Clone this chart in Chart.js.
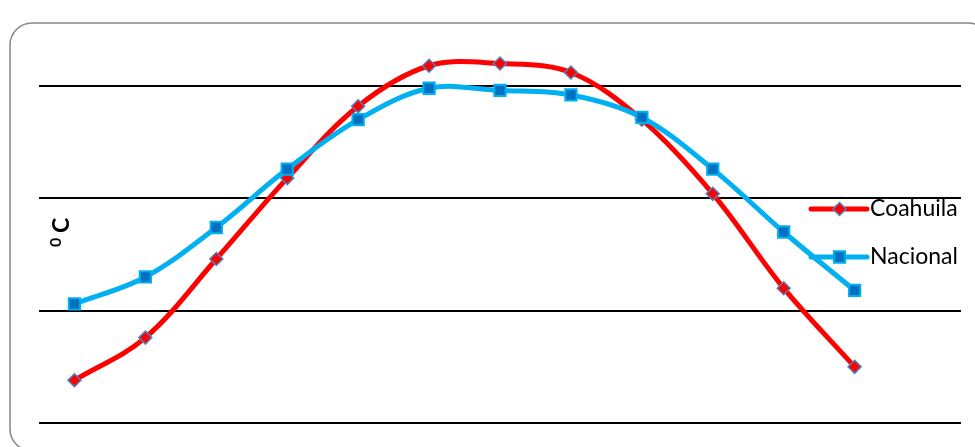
<!DOCTYPE html>
<html>
<head>
<meta charset="utf-8">
<script src="https://cdn.jsdelivr.net/npm/chart.js@4/dist/chart.umd.min.js"></script>
<style>
  html, body { margin: 0; padding: 0; background: #ffffff; }
  #wrap { position: relative; width: 975px; height: 447px; }
</style>
</head>
<body>
<div id="wrap"><canvas id="c"></canvas></div>
<script>
// Monthly mean temperature (°C); the empty trailing slot keeps room on the right for the legend
const months = ['Ene', 'Feb', 'Mar', 'Abr', 'May', 'Jun', 'Jul', 'Ago', 'Sep', 'Oct', 'Nov', 'Dic', ''];
const coahuila = [11.9, 13.8, 17.3, 20.9, 24.1, 25.9, 26.0, 25.6, 23.5, 20.2, 16.0, 12.5];
const nacional = [15.3, 16.5, 18.7, 21.3, 23.5, 24.9, 24.8, 24.6, 23.6, 21.3, 18.5, 15.9];
const gridValues = [10, 15, 20, 25];
const seriesNames = ['Coahuila', 'Nacional'];

const RED = '#ff0000';
const DIAMOND_EDGE = '#4f81bd';
const CYAN = '#00b0f0';
const SQUARE_FILL = '#0070c0';

const coahuilaStyle = {
  borderColor: RED, borderWidth: 5,
  pointStyle: 'rectRot', pointRadius: 6.5, pointBackgroundColor: RED,
  pointBorderColor: DIAMOND_EDGE, pointBorderWidth: 1.5
};
const nacionalStyle = {
  borderColor: CYAN, borderWidth: 5,
  pointStyle: 'rect', pointRadius: 8, pointBackgroundColor: SQUARE_FILL,
  pointBorderColor: CYAN, pointBorderWidth: 2
};

// Rounded frame around the whole chart
const framePlugin = {
  id: 'frame',
  beforeDraw(chart) {
    const ctx = chart.ctx;
    const x = 10, y = 23, w = 980, h = 428, r = 22;
    ctx.save();
    ctx.beginPath();
    ctx.moveTo(x + r, y);
    ctx.lineTo(x + w - r, y);
    ctx.arcTo(x + w, y, x + w, y + r, r);
    ctx.lineTo(x + w, y + h - r);
    ctx.arcTo(x + w, y + h, x + w - r, y + h, r);
    ctx.lineTo(x + r, y + h);
    ctx.arcTo(x, y + h, x, y + h - r, r);
    ctx.lineTo(x, y + r);
    ctx.arcTo(x, y, x + r, y, r);
    ctx.closePath();
    ctx.strokeStyle = '#878787';
    ctx.lineWidth = 1.5;
    ctx.stroke();
    ctx.restore();
  }
};

// Rotated unit label and the legend, drawn over the plot area
const overlayPlugin = {
  id: 'overlay',
  afterDraw(chart) {
    const ctx = chart.ctx;
    ctx.save();
    // "⁰ C" reading bottom to top
    ctx.translate(69, 247);
    ctx.rotate(-Math.PI / 2);
    ctx.fillStyle = '#000000';
    ctx.textAlign = 'left';
    ctx.textBaseline = 'alphabetic';
    ctx.font = 'bold 16px Lato, "Liberation Sans", sans-serif';
    ctx.fillText('0', 0, -8);
    ctx.font = 'bold 23px Lato, "Liberation Sans", sans-serif';
    ctx.fillText('C', 14, 0);
    ctx.restore();

    const styles = [coahuilaStyle, nacionalStyle];
    const rows = [209, 257];
    const baselines = [216, 264];
    ctx.save();
    styles.forEach((s, i) => {
      const y = rows[i];
      ctx.beginPath();
      ctx.moveTo(811, y);
      ctx.lineTo(867, y);
      ctx.strokeStyle = s.borderColor;
      ctx.lineWidth = s.borderWidth;
      ctx.lineCap = 'round';
      ctx.stroke();
      ctx.fillStyle = s.pointBackgroundColor;
      ctx.strokeStyle = s.pointBorderColor;
      ctx.lineWidth = s.pointBorderWidth;
      Chart.helpers.drawPoint(ctx, { pointStyle: s.pointStyle, radius: s.pointRadius, borderWidth: s.pointBorderWidth, rotation: 0 }, 839.5, y);
      ctx.fillStyle = '#000000';
      ctx.font = '23px Lato, "Liberation Sans", sans-serif';
      ctx.textAlign = 'left';
      ctx.textBaseline = 'alphabetic';
      ctx.fillText(seriesNames[i], 870, baselines[i]);
    });
    ctx.restore();
  }
};

new Chart(document.getElementById('c'), {
  type: 'line',
  data: {
    labels: months,
    datasets: [
      Object.assign({ label: seriesNames[0], data: coahuila, order: 1 }, coahuilaStyle),
      Object.assign({ label: seriesNames[1], data: nacional, order: 0 }, nacionalStyle)
    ]
  },
  options: {
    responsive: true,
    maintainAspectRatio: false,
    animation: false,
    events: [],
    layout: { padding: { left: 39, right: 14, top: 29.8, bottom: 24 } },
    elements: { line: { tension: 0.35, fill: false, capBezierPoints: false } },
    plugins: { legend: { display: false }, tooltip: { enabled: false }, title: { display: false } },
    scales: {
      x: { type: 'category', offset: true, display: false },
      y: {
        min: 10, max: 27.5,
        border: { display: false },
        grid: { color: '#000000', lineWidth: 2, drawTicks: false },
        ticks: { display: false, stepSize: 5, includeBounds: false },
        afterBuildTicks(scale) { scale.ticks = gridValues.map(v => ({ value: v })); },
        afterFit(scale) { scale.width = 0; }
      }
    }
  },
  plugins: [framePlugin, overlayPlugin]
});
</script>
</body>
</html>
